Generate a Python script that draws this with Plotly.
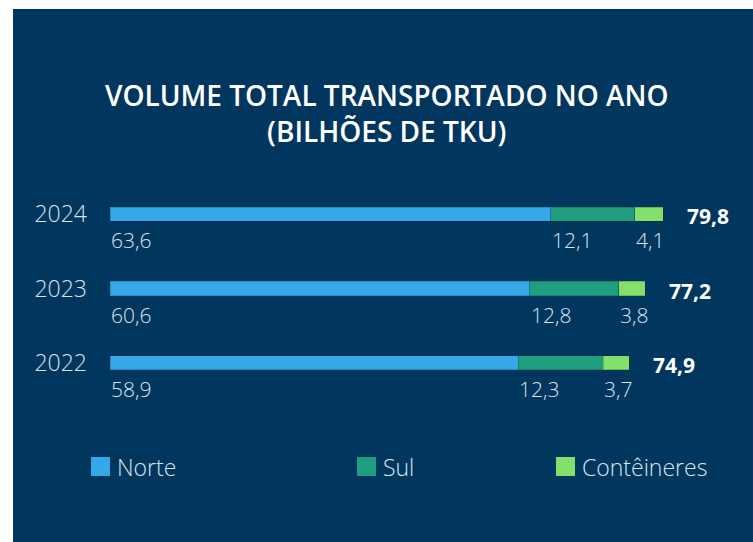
import plotly.graph_objects as go

years = ["2022", "2023", "2024"]
series_names = ["Norte", "Sul", "Contêineres"]
norte = [58.9, 60.6, 63.6]
sul = [12.3, 12.8, 12.1]
conteineres = [3.7, 3.8, 4.1]
series_values = [norte, sul, conteineres]
colors = ["#35a8e8", "#1f9f80", "#83e06b"]

BG = "#01365f"
LABEL = "#dbe4ee"
FONT = "Open Sans"

W, H = 753, 542
ML, MR, MT, MB = 110, 13, 177, 142
PW = W - ML - MR
PH = H - MT - MB
XMAX = PW / 6.93


def px2x(px):
    return (px - ML) / PW


def py2y(py):
    return (H - MB - py) / PH


def fmt(v):
    return f"{v:.1f}".replace(".", ",")


fig = go.Figure()
for name, vals, col in zip(series_names, series_values, colors):
    fig.add_trace(go.Bar(
        y=years, x=vals, name=name, orientation="h",
        marker=dict(color=col, line=dict(color="rgba(0,0,0,0.18)", width=1)),
        width=0.19, showlegend=False, hoverinfo="x+name",
    ))

annotations = []
for i, yr in enumerate(years):
    cum = 0.0
    for vals in series_values:
        annotations.append(dict(
            x=cum, y=i, xref="x", yref="y", text=fmt(vals[i]),
            showarrow=False, xanchor="left", yanchor="middle", yshift=-26, xshift=-1,
            font=dict(family=FONT, size=21, color=LABEL, weight=300),
        ))
        cum += vals[i]
    annotations.append(dict(
        x=cum, y=i, xref="x", yref="y", text=f"<b>{fmt(round(cum, 1))}</b>",
        showarrow=False, xanchor="left", yanchor="middle", xshift=22, yshift=-2,
        font=dict(family=FONT, size=21, color="white"),
    ))

# title
annotations.append(dict(
    x=px2x(386), y=py2y(113), xref="paper", yref="paper",
    text="VOLUME TOTAL TRANSPORTADO NO ANO<br>(BILHÕES DE TKU)",
    showarrow=False, xanchor="center", yanchor="middle", align="center",
    font=dict(family=FONT, size=28, color="white", weight=600),
))

shapes = [dict(
    type="rect", xref="paper", yref="paper", layer="below",
    x0=px2x(13), x1=px2x(W + 5), y0=py2y(H + 5), y1=py2y(9),
    fillcolor=BG, line=dict(width=0),
)]

# legend (manual)
leg_x = [91, 357, 556]
for name, col, lx in zip(series_names, colors, leg_x):
    shapes.append(dict(
        type="rect", xref="paper", yref="paper",
        x0=px2x(lx), x1=px2x(lx + 19), y0=py2y(476), y1=py2y(457),
        fillcolor=col, line=dict(width=0),
    ))
    annotations.append(dict(
        x=px2x(lx + 24), y=py2y(467), xref="paper", yref="paper", text=name,
        showarrow=False, xanchor="left", yanchor="middle",
        font=dict(family=FONT, size=23, color=LABEL, weight=300),
    ))

fig.update_layout(
    width=W, height=H, barmode="stack",
    margin=dict(l=ML, r=MR, t=MT, b=MB, pad=0),
    paper_bgcolor="white", plot_bgcolor="rgba(0,0,0,0)",
    xaxis=dict(range=[0, XMAX], visible=False, fixedrange=True),
    yaxis=dict(type="category", categoryorder="array", categoryarray=years,
               range=[-0.5, 2.5], showgrid=False, zeroline=False, showline=False,
               ticks="", ticklabelstandoff=22,
               tickfont=dict(family=FONT, size=23, color=LABEL, weight=300)),
    annotations=annotations, shapes=shapes, showlegend=False,
)

fig.write_html("out.html")
